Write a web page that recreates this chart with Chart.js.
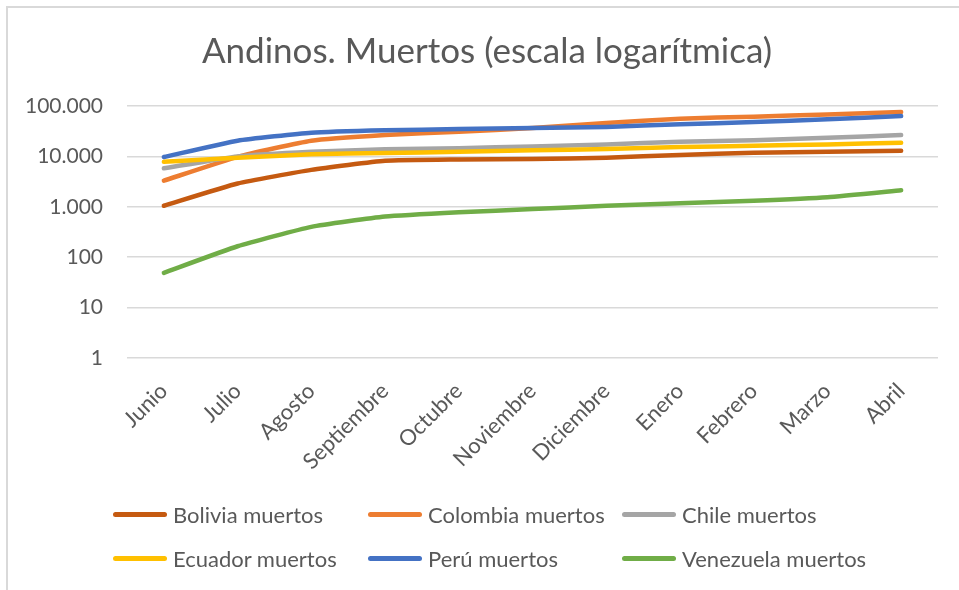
<!DOCTYPE html>
<html>
<head>
<meta charset="utf-8">
<script src="https://cdn.jsdelivr.net/npm/chart.js@4/dist/chart.umd.min.js"></script>
<style>
  html, body { margin: 0; padding: 0; background: #fff; }
  #wrap { position: relative; width: 959px; height: 590px; overflow: hidden; }
  #frame { position: absolute; left: 6px; top: 6px; width: 1000px; height: 1000px;
           border-left: 2px solid #d9d9d9; border-top: 2px solid #d9d9d9; }
  canvas { position: absolute; left: 0; top: 0; }
  #legend { position: absolute; left: 0; top: 0; font-family: Lato, sans-serif; font-size: 22px; color: #595959; }
  .item { position: absolute; display: flex; align-items: center; white-space: nowrap; }
  .swatch { width: 54px; height: 5px; border-radius: 3px; margin-right: 6px; }
</style>
</head>
<body>
<div id="wrap">
  <div id="frame"></div>
  <canvas id="c" width="959" height="590"></canvas>
  <div id="legend"></div>
</div>
<script>
var months = ['Junio','Julio','Agosto','Septiembre','Octubre','Noviembre','Diciembre','Enero','Febrero','Marzo','Abril'];
var yTicks = [1, 10, 100, 1000, 10000, 100000];

var bolivia   = [1050, 2900, 5400, 8200, 8700, 8900, 9400, 10700, 11800, 12400, 13000];
var colombia  = [3300, 9800, 20500, 26600, 31000, 36500, 46000, 56000, 61500, 68000, 76000];
var chile     = [5800, 10000, 12400, 13800, 14500, 15800, 17300, 19500, 21000, 23400, 26500];
var ecuador   = [7800, 9400, 11000, 11700, 12300, 13200, 14000, 15300, 16300, 17300, 18700];
var peru      = [9700, 20500, 29500, 33000, 34800, 36500, 38500, 43500, 48000, 54600, 63000];
var venezuela = [49, 165, 400, 640, 780, 900, 1050, 1180, 1320, 1550, 2130];

var series = [
  { label: 'Bolivia muertos',   data: bolivia,   color: '#C55A11' },
  { label: 'Colombia muertos',  data: colombia,  color: '#ED7D31' },
  { label: 'Chile muertos',     data: chile,     color: '#A5A5A5' },
  { label: 'Ecuador muertos',   data: ecuador,   color: '#FFC000' },
  { label: 'Perú muertos',      data: peru,      color: '#4472C4' },
  { label: 'Venezuela muertos', data: venezuela, color: '#70AD47' }
];

function fmt(v){
  return String(v).replace(/\B(?=(\d{3})+(?!\d))/g, '.');
}

var datasets = series.map(function(s, i){
  return {
    label: s.label,
    data: s.data,
    borderColor: s.color,
    backgroundColor: s.color,
    borderWidth: 4.5,
    borderCapStyle: 'round',
    borderJoinStyle: 'round',
    pointRadius: 0,
    tension: 0.15,
    order: series.length - 1 - i
  };
});

var chart = new Chart(document.getElementById('c'), {
  type: 'line',
  data: { labels: months, datasets: datasets },
  options: {
    responsive: false,
    animation: false,
    layout: { padding: { left: 15, right: 0, top: 0, bottom: 0 } },
    plugins: {
      legend: { display: false },
      tooltip: { enabled: false },
      title: {
        display: true,
        text: 'Andinos. Muertos (escala logarítmica)',
        color: '#595959',
        font: { family: 'Lato', size: 35, weight: 'normal' },
        padding: { top: 31, bottom: 33 }
      }
    },
    scales: {
      x: {
        offset: true,
        grid: { display: false },
        border: { display: false },
        ticks: {
          color: '#595959',
          font: { family: 'Lato', size: 22 },
          minRotation: 45,
          maxRotation: 45,
          padding: 12,
          autoSkip: false
        },
        afterFit: function(scale){ scale.height = 232; }
      },
      y: {
        type: 'logarithmic',
        min: 1,
        max: 100000,
        border: { display: false },
        grid: { color: '#d9d9d9', lineWidth: 1.5, drawTicks: false },
        ticks: {
          color: '#595959',
          font: { family: 'Lato', size: 21 },
          padding: 24,
          callback: function(v){ return fmt(v); }
        },
        afterBuildTicks: function(scale){
          scale.ticks = yTicks.map(function(v){ return { value: v }; });
        },
        afterFit: function(scale){ scale.width = 112; }
      },
      // empty right margin so the plot ends where the reference does
      pad: {
        position: 'right',
        grid: { display: false },
        border: { display: false },
        ticks: { display: false },
        afterFit: function(scale){ scale.width = 21; }
      }
    }
  }
});

// legend, built from the chart datasets
var legend = document.getElementById('legend');
var colX = [113, 368, 622];
var rowY = [514, 558];
chart.data.datasets.forEach(function(ds, i){
  var item = document.createElement('div');
  item.className = 'item';
  item.style.left = colX[i % 3] + 'px';
  item.style.top = (rowY[Math.floor(i / 3)] - 14) + 'px';
  item.style.height = '28px';
  var sw = document.createElement('span');
  sw.className = 'swatch';
  sw.style.background = ds.borderColor;
  var tx = document.createElement('span');
  tx.textContent = ds.label;
  item.appendChild(sw);
  item.appendChild(tx);
  legend.appendChild(item);
});
</script>
</body>
</html>
